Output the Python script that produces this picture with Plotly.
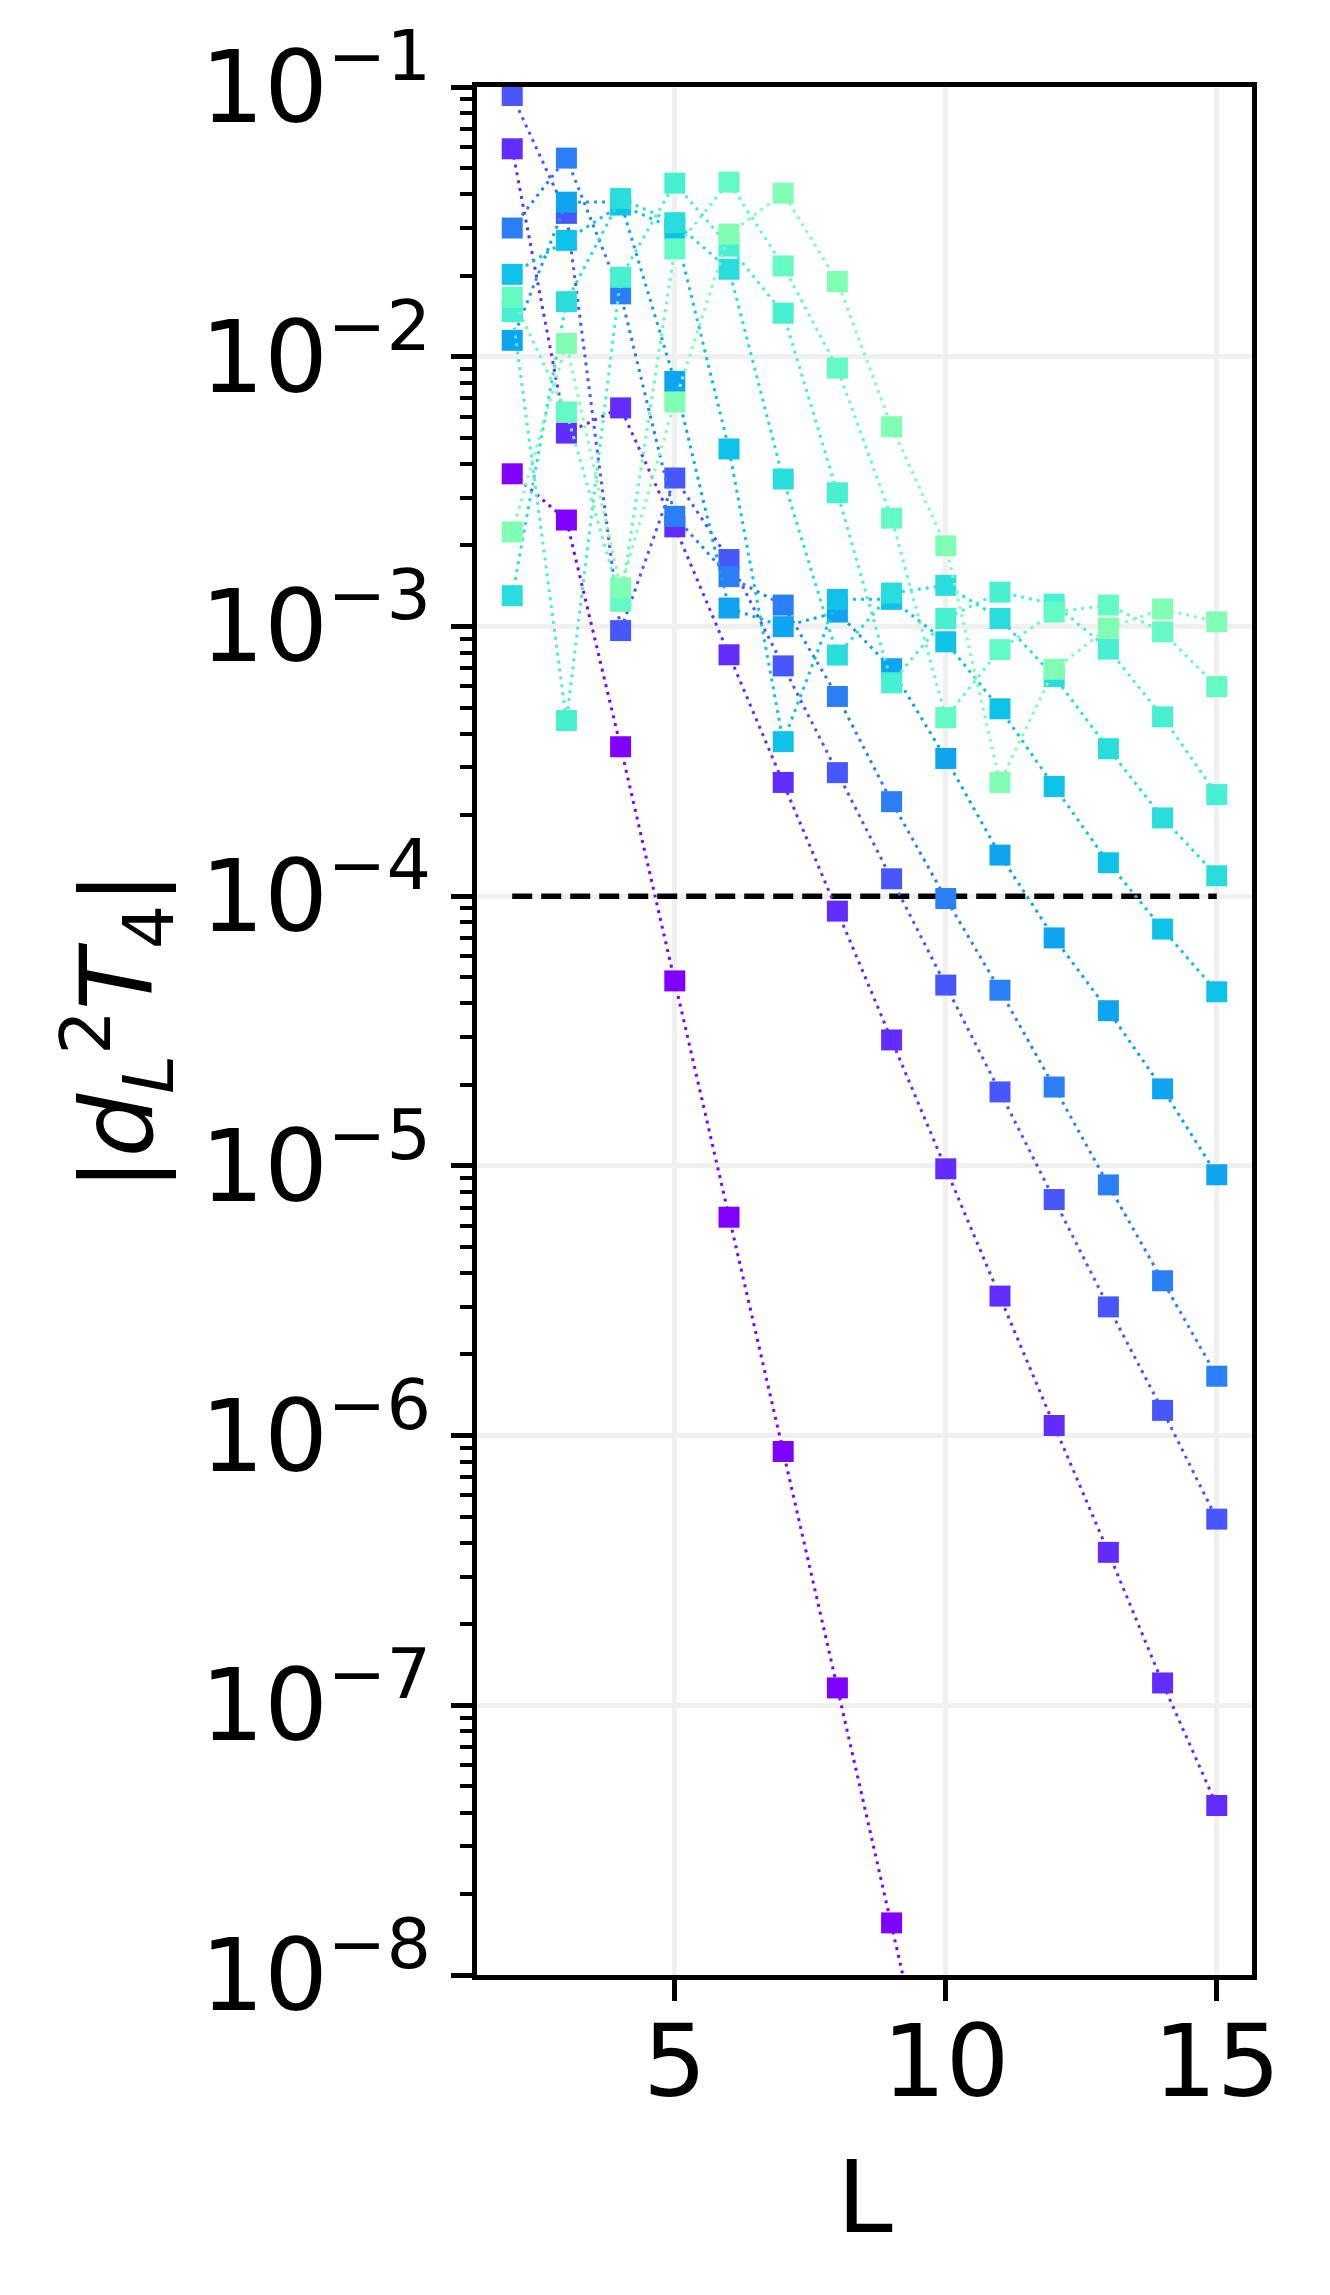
import math
import plotly.graph_objects as go

# x values shared by all series
L_values = list(range(2, 16))

# |d_L^2 T_4| per series (series_0 leaves the plot after L=9)
series_0 = [3.68e-3, 2.48e-3, 3.58e-4, 4.85e-5, 6.45e-6, 8.73e-7, 1.16e-7, 1.56e-8, 2.0e-9]
series_1 = [5.9e-2, 5.21e-3, 6.46e-3, 2.34e-3, 7.85e-4, 2.64e-4, 8.8e-5, 2.93e-5, 9.75e-6, 3.29e-6, 1.09e-6, 3.69e-7, 1.21e-7, 4.25e-8]
series_2 = [9.3e-2, 3.4e-2, 9.65e-4, 3.55e-3, 1.77e-3, 7.14e-4, 2.87e-4, 1.16e-4, 4.68e-5, 1.88e-5, 7.5e-6, 3.0e-6, 1.24e-6, 4.9e-7]
series_3 = [3.0e-2, 5.45e-2, 1.71e-2, 2.56e-3, 1.53e-3, 1.20e-3, 5.5e-4, 2.24e-4, 9.8e-5, 4.48e-5, 1.96e-5, 8.5e-6, 3.75e-6, 1.66e-6]
series_4 = [1.15e-2, 3.74e-2, 3.75e-2, 8.1e-3, 1.17e-3, 9.98e-4, 1.13e-3, 6.97e-4, 3.24e-4, 1.42e-4, 7.0e-5, 3.76e-5, 1.93e-5, 9.27e-6]
series_5 = [2.02e-2, 2.70e-2, 3.65e-2, 2.98e-2, 4.55e-3, 3.74e-4, 1.26e-3, 1.26e-3, 8.77e-4, 4.95e-4, 2.55e-4, 1.33e-4, 7.55e-5, 4.42e-5]
series_6 = [1.30e-3, 1.60e-2, 3.86e-2, 3.14e-2, 2.11e-2, 3.52e-3, 7.83e-4, 1.33e-3, 1.42e-3, 1.07e-3, 6.52e-4, 3.52e-4, 1.95e-4, 1.19e-4]
series_7 = [1.47e-2, 4.48e-4, 1.97e-2, 4.4e-2, 2.57e-2, 1.45e-2, 3.13e-3, 6.18e-4, 1.07e-3, 1.34e-3, 1.21e-3, 8.24e-4, 4.62e-4, 2.38e-4]
series_8 = [1.66e-2, 6.24e-3, 1.24e-3, 2.51e-2, 4.44e-2, 2.17e-2, 9.08e-3, 2.52e-3, 4.59e-4, 8.2e-4, 1.13e-3, 1.2e-3, 9.55e-4, 5.98e-4]
series_9 = [2.24e-3, 1.12e-2, 1.39e-3, 6.79e-3, 2.85e-2, 4.04e-2, 1.9e-2, 5.5e-3, 1.99e-3, 2.64e-4, 6.94e-4, 9.87e-4, 1.16e-3, 1.04e-3]

threshold = 1e-4

y_tick_values = [1e-8, 1e-7, 1e-6, 1e-5, 1e-4, 1e-3, 1e-2, 1e-1]
y_tick_labels = ["10<sup>\u22128</sup>", "10<sup>\u22127</sup>", "10<sup>\u22126</sup>", "10<sup>\u22125</sup>",
                 "10<sup>\u22124</sup>", "10<sup>\u22123</sup>", "10<sup>\u22122</sup>", "10<sup>\u22121</sup>"]
x_tick_values = [5, 10, 15]

all_series = [series_0, series_1, series_2, series_3, series_4,
              series_5, series_6, series_7, series_8, series_9]


def rainbow(t):
    # matplotlib's "rainbow" colormap
    r = abs(2 * t - 0.5)
    g = math.sin(math.pi * t)
    b = math.cos(math.pi * t / 2)
    return "rgb(%d,%d,%d)" % (round(255 * r), round(255 * g), round(255 * b))


fig = go.Figure()

# dashed reference line
fig.add_trace(go.Scatter(
    x=[L_values[0], L_values[-1]], y=[threshold, threshold],
    mode="lines", line=dict(color="black", width=5.5, dash="20px,9px"),
    hoverinfo="skip"
))

for i, vals in enumerate(all_series):
    col = rainbow(i / 18)
    fig.add_trace(go.Scatter(
        x=L_values[:len(vals)], y=vals,
        mode="lines+markers",
        line=dict(color=col, width=3, dash="3px,5px"),
        marker=dict(symbol="square", size=21, color=col),
        name="series %d" % i
    ))

minor_ticks = [k * 10.0 ** e for e in range(-8, -1) for k in range(2, 10)]

fig.update_layout(
    width=1330, height=2295, autosize=False,
    margin=dict(l=477, r=78, t=87, b=320),
    plot_bgcolor="white", paper_bgcolor="white",
    showlegend=False,
    font=dict(family="DejaVu Sans", size=100, color="black"),
    xaxis=dict(
        range=[1.35, 15.65],
        tickmode="array", tickvals=x_tick_values,
        ticks="outside", ticklen=21, tickwidth=5, tickcolor="black",
        ticklabelstandoff=-25,
        showline=True, linecolor="black", linewidth=5, mirror=True,
        showgrid=True, gridcolor="#f0f0f0", gridwidth=5,
        zeroline=False,
        tickfont=dict(family="DejaVu Sans", size=100, color="black"),
    ),
    yaxis=dict(
        type="log", range=[-8, -1],
        tickmode="array", tickvals=y_tick_values, ticktext=y_tick_labels,
        ticks="outside", ticklen=21, tickwidth=5, tickcolor="black",
        minor=dict(tickmode="array", tickvals=minor_ticks, ticks="outside",
                   ticklen=12, tickwidth=3.5, tickcolor="black", showgrid=False),
        showline=True, linecolor="black", linewidth=5, mirror=True,
        showgrid=True, gridcolor="#f0f0f0", gridwidth=5,
        zeroline=False,
        tickfont=dict(family="DejaVu Sans", size=100, color="black"),
    ),
    annotations=[
        dict(text="|<i>d</i><sub><i>L</i></sub><sup>2</sup><i>T</i><sub>4</sub>|",
             xref="paper", yref="paper", x=-0.4645, y=0.5,
             xanchor="center", yanchor="middle", textangle=-90, showarrow=False,
             font=dict(family="DejaVu Sans", size=100, color="black")),
        dict(text="L", xref="paper", yref="paper", x=0.5, y=-0.118,
             xanchor="center", yanchor="middle", showarrow=False,
             font=dict(family="DejaVu Sans", size=100, color="black")),
    ],
)

# drop the browser's default body margin so the figure sits at the page corner
fig.write_html("out.html", config={"displayModeBar": False},
               post_script="document.body.style.margin = '0';")
